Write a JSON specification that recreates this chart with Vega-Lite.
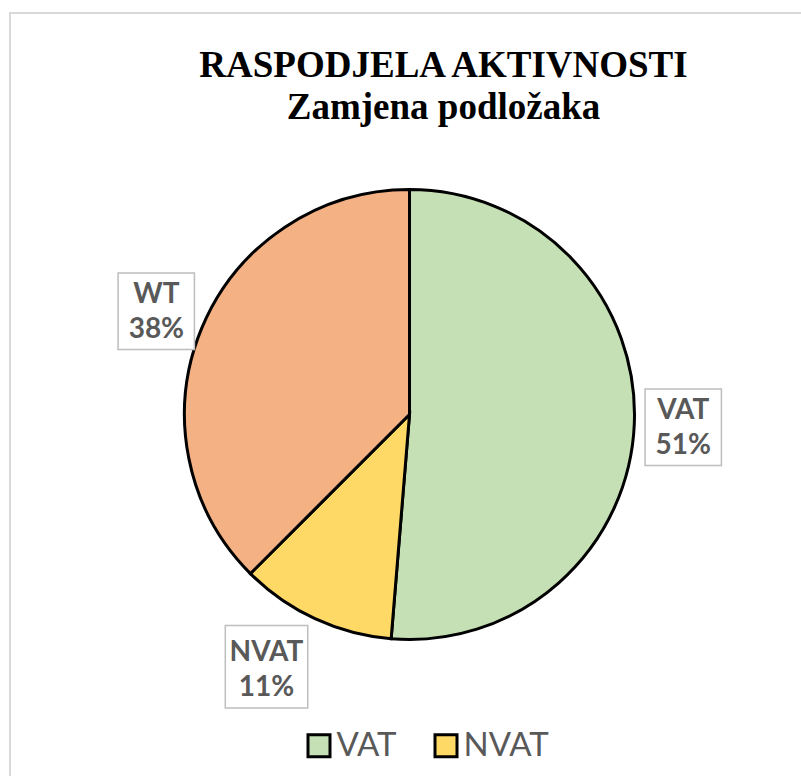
{
  "$schema": "https://vega.github.io/schema/vega-lite/v6.json",
  "width": 799,
  "height": 803,
  "autosize": {"type": "none"},
  "padding": {"left": 10, "top": 13, "right": -8, "bottom": -40},
  "background": "white",
  "view": {"stroke": "#D9D9D9", "strokeWidth": 2, "fill": "white"},
  "config": {"view": {"stroke": "#D9D9D9", "strokeWidth": 2}},
  "title": {
    "text": ["RASPODJELA AKTIVNOSTI", "Zamjena podložaka"],
    "font": "Liberation Serif",
    "fontSize": 37,
    "fontWeight": "bold",
    "color": "black",
    "lineHeight": 42,
    "anchor": "middle",
    "dx": 34,
    "offset": -114
  },
  "data": {
    "values": [
      {"category": "VAT", "value": 51.3, "n": 1, "label": "VAT\n51%"},
      {"category": "NVAT", "value": 11.2, "n": 2, "label": "NVAT\n11%"},
      {"category": "WT", "value": 37.5, "n": 3, "label": "WT\n38%"}
    ]
  },
  "encoding": {
    "theta": {"field": "value", "type": "quantitative", "stack": true},
    "order": {"field": "n", "type": "quantitative"}
  },
  "layer": [
    {
      "mark": {"type": "arc", "outerRadius": 225, "stroke": "black", "strokeWidth": 3},
      "encoding": {
        "color": {
          "field": "category",
          "type": "nominal",
          "scale": {"domain": ["VAT", "NVAT", "WT"], "range": ["#C5E0B4", "#FFD966", "#F4B183"]},
          "legend": {
            "orient": "none",
            "legendX": 292.5,
            "legendY": 716,
            "columns": 2,
            "direction": "horizontal",
            "title": null,
            "symbolType": "square",
            "symbolSize": 484,
            "symbolStrokeWidth": 3,
            "symbolStrokeColor": "black",
            "symbolOpacity": 1,
            "labelFont": "Lato",
            "labelFontSize": 33,
            "labelColor": "#595959",
            "labelOffset": 1,
            "columnPadding": 31,
            "rowPadding": 70,
            "padding": 0,
            "encode": {
              "symbols": {
                "update": {
                  "stroke": {"value": "black"},
                  "strokeWidth": {"value": 3},
                  "opacity": {"value": 1}
                }
              }
            }
          }
        }
      }
    },
    {
      "mark": {"type": "text", "radius": 274, "dy": -3, "text": "■", "font": "DejaVu Sans", "fontSize": 100, "stroke": "#BFBFBF", "strokeWidth": 1.5, "baseline": "middle", "align": "center"},
      "encoding": {
        "detail": {"field": "category"},
        "color": {"value": "white"},
        "opacity": {"condition": {"test": "datum.category === 'NVAT'", "value": 0}, "value": 1}
      }
    },
    {
      "mark": {"type": "text", "radius": 274, "dx": -28, "dy": 0, "text": "■", "font": "DejaVu Sans", "fontSize": 108, "stroke": "#BFBFBF", "strokeWidth": 1.5, "baseline": "middle", "align": "center"},
      "encoding": {
        "detail": {"field": "category"},
        "color": {"value": "white"},
        "opacity": {"condition": {"test": "datum.category === 'NVAT'", "value": 1}, "value": 0}
      }
    },
    {
      "mark": {"type": "text", "radius": 274, "dy": -15, "font": "Lato", "fontSize": 28, "fontWeight": "bold", "lineBreak": "\n", "lineHeight": 35, "baseline": "middle", "align": "center"},
      "encoding": {
        "detail": {"field": "category"},
        "text": {"field": "label"},
        "color": {"value": "#595959"},
        "opacity": {"condition": {"test": "datum.category === 'NVAT'", "value": 0}, "value": 1}
      }
    },
    {
      "mark": {"type": "text", "radius": 274, "dx": -28, "dy": -10, "font": "Lato", "fontSize": 28, "fontWeight": "bold", "lineBreak": "\n", "lineHeight": 35, "baseline": "middle", "align": "center"},
      "encoding": {
        "detail": {"field": "category"},
        "text": {"field": "label"},
        "color": {"value": "#595959"},
        "opacity": {"condition": {"test": "datum.category === 'NVAT'", "value": 1}, "value": 0}
      }
    }
  ]
}
